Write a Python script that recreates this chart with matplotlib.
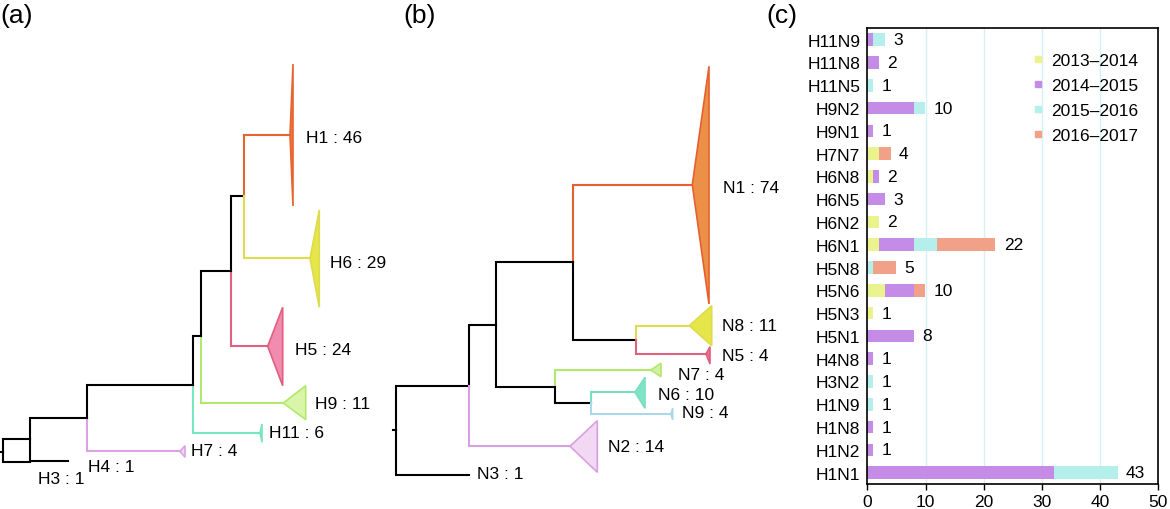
import numpy as np
import matplotlib
matplotlib.use('Agg')
import matplotlib.pyplot as plt
from matplotlib.patches import Polygon
from matplotlib.lines import Line2D

plt.rcParams['font.family'] = ['Liberation Sans', 'DejaVu Sans']

# ---- panel (c) data, bottom row first ----
subtypes = ['H1N1', 'H1N2', 'H1N8', 'H1N9', 'H3N2', 'H4N8', 'H5N1', 'H5N3', 'H5N6', 'H5N8',
            'H6N1', 'H6N2', 'H6N5', 'H6N8', 'H7N7', 'H9N1', 'H9N2', 'H11N5', 'H11N8', 'H11N9']
s2013 = [0, 0, 0, 0, 0, 0, 0, 1, 3, 0, 2, 2, 0, 1, 2, 0, 0, 0, 0, 0]
s2014 = [32, 1, 1, 0, 0, 1, 8, 0, 5, 0, 6, 0, 3, 1, 0, 1, 8, 0, 2, 1]
s2015 = [11, 0, 0, 1, 1, 0, 0, 0, 0, 1, 4, 0, 0, 0, 0, 0, 2, 1, 0, 2]
s2016 = [0, 0, 0, 0, 0, 0, 0, 0, 2, 4, 10, 0, 0, 0, 2, 0, 0, 0, 0, 0]
seasons = ['2013\u20132014', '2014\u20132015', '2015\u20132016', '2016\u20132017']
season_colors = ['#eaf38e', '#c48ce6', '#b4efeb', '#f1a188']

# ---- panel (a) tree: node positions (depth, row) ----
tree_a_nodes = {
    'root': (3.3, 453), 'n0': (30, 463), 'n1': (30, 440), 'H3': (68, 462),
    'n2': (86.7, 419.3), 'H4': (180, 452.3), 'n3': (193.3, 386), 'H11': (260, 434),
    'n4': (201, 337.3), 'H9': (283.3, 404), 'n5': (230.7, 272.3), 'H5': (267.7, 347.3),
    'n6': (244, 197.3), 'H1': (290, 136), 'H6': (310, 259.3),
}
tree_a_parent = {
    'n0': 'root', 'n1': 'root', 'H3': 'n1', 'n2': 'n1', 'H4': 'n2', 'n3': 'n2',
    'H11': 'n3', 'n4': 'n3', 'H9': 'n4', 'n5': 'n4', 'H5': 'n5', 'n6': 'n5',
    'H1': 'n6', 'H6': 'n6',
}
# collapsed clades: tip depth, top row, bottom row
tree_a_clades = {
    'H1': (293, 65, 207), 'H6': (319.3, 211, 308.3), 'H5': (282.7, 308.3, 386.7),
    'H9': (305.7, 386.7, 420.7), 'H11': (262, 425, 443.3), 'H4': (185, 446.7, 458.3),
}
tree_a_labels = [('H1 : 46', 305.7, 138.3), ('H6 : 29', 330, 264), ('H5 : 24', 295, 351),
                 ('H9 : 11', 315, 405), ('H11 : 6', 269.3, 433.3), ('H7 : 4', 190.7, 451.7),
                 ('H4 : 1', 88.3, 467.3), ('H3 : 1', 38.3, 480)]

# ---- panel (b) tree ----
tree_b_nodes = {
    'root': (16, 430.7), 'a': (89.3, 386.7), 'N3': (89.3, 476), 'b': (115.7, 325.7),
    'N2': (190, 447.3), 'c': (192.7, 263.3), 'd': (174.7, 387.7), 'N1': (312.3, 185.7),
    'e': (255.7, 341), 'N8': (309.3, 326.7), 'N5': (326, 355), 'N7': (270.7, 371),
    'f': (210.7, 404.3), 'N6': (255, 393.3), 'N9': (291, 415),
}
tree_b_parent = {
    'a': 'root', 'N3': 'root', 'b': 'a', 'N2': 'a', 'c': 'b', 'd': 'b',
    'N1': 'c', 'e': 'c', 'N8': 'e', 'N5': 'e', 'N7': 'd', 'f': 'd', 'N6': 'f', 'N9': 'f',
}
tree_b_clades = {
    'N1': (329, 67.3, 305), 'N8': (331.7, 306.7, 346.7), 'N5': (330, 347.7, 365),
    'N7': (281, 364.3, 377.7), 'N6': (265, 378.3, 409.3), 'N9': (292.7, 409, 421),
    'N2': (217.3, 421.7, 473.3),
}
tree_b_labels = [('N1 : 74', 343.3, 188.3), ('N8 : 11', 341.7, 326.7), ('N5 : 4', 341.7, 356.7),
                 ('N7 : 4', 297.7, 376), ('N6 : 10', 278.3, 396), ('N9 : 4', 302.3, 413.3),
                 ('N2 : 14', 228.3, 447.3), ('N3 : 1', 97.3, 475)]

# line colour, fill colour per clade
clade_style = {
    'H1': ('#e8642e', '#ee7a40'), 'H6': ('#dcdc4e', '#e6e64a'), 'H5': ('#e0607e', '#f28bb0'),
    'H9': ('#b2e86e', '#d8f5a8'), 'H11': ('#78e6c0', '#80e2c6'), 'H4': ('#dca2e6', '#f2d8f2'),
    'N1': ('#e5602e', '#ec9048'), 'N8': ('#dcdc4e', '#e6e64a'), 'N5': ('#e0607e', '#f07090'),
    'N7': ('#b2e86e', '#d0f2a0'), 'N6': ('#78e0c0', '#80e2c6'), 'N9': ('#a8d8ea', '#a8d8ea'),
    'N2': ('#d8a0e4', '#f2d8f2'),
}


def draw_tree(ax, nodes, parent, clades, labels, stub):
    for child, par in parent.items():
        px, py = nodes[par]
        cx, cy = nodes[child]
        col = clade_style.get(child, ('black',))[0]
        ax.plot([px, px, cx], [py, cy, cy], color=col, lw=1.5, solid_joinstyle='miter')
    rx, ry = nodes['root']
    ax.plot([rx - stub, rx], [ry, ry], color='black', lw=1.5)
    for name, (tx, top, bot) in clades.items():
        ax_, ay = nodes[name]
        line, fill = clade_style[name]
        ax.add_patch(Polygon([(ax_, ay), (tx, top), (tx, bot)], closed=True,
                             facecolor=fill, edgecolor=line, lw=1.2))
    for txt, x, y in labels:
        ax.text(x, y, txt, fontsize=12.5, ha='left', va='center')


fig = plt.figure(figsize=(11.7, 5.1), dpi=100)

ax_a = fig.add_axes([0, 0, 390 / 1170, 1])
ax_a.set_xlim(0, 390)
ax_a.set_ylim(510, 0)
ax_a.axis('off')
draw_tree(ax_a, tree_a_nodes, tree_a_parent, tree_a_clades, tree_a_labels, 3.3)

ax_b = fig.add_axes([380 / 1170, 0, 400 / 1170, 1])
ax_b.set_xlim(0, 400)
ax_b.set_ylim(510, 0)
ax_b.axis('off')
draw_tree(ax_b, tree_b_nodes, tree_b_parent, tree_b_clades, tree_b_labels, 2.7)

# ---- panel (c) ----
ax = fig.add_axes([867.3 / 1170, 25 / 510, 291 / 1170, 455.7 / 510])
y = np.arange(len(subtypes))
left = np.zeros(len(subtypes))
for vals, col, lab in zip([s2013, s2014, s2015, s2016], season_colors, seasons):
    ax.barh(y, vals, left=left, height=0.55, color=col, label=lab, zorder=2)
    left += np.array(vals)
for yi, tot in zip(y, left):
    ax.annotate(str(int(tot)), (tot, yi), xytext=(6, 0), textcoords='offset points',
                va='center', ha='left', fontsize=12.5)
ax.set_xlim(0, 50)
ax.set_ylim(-0.5, 19.5)
ax.set_yticks(y)
ax.set_yticklabels(subtypes, fontsize=12.5)
ax.set_xticks(np.arange(0, 51, 10))
ax.tick_params(axis='x', labelsize=12.5, length=4, width=1, direction='out')
ax.tick_params(axis='y', length=0, pad=5)
for xv in [10, 20, 30, 40]:
    ax.axvline(xv, color='#d4f2f4', lw=1, zorder=1)
for sp in ax.spines.values():
    sp.set_linewidth(1.2)

handles = [Line2D([], [], marker='s', ls='none', markersize=5, color=c) for c in season_colors]
ax.legend(handles, seasons, loc='upper left', bbox_to_anchor=(0.5625, 0.947), frameon=False,
          fontsize=12.5, handlelength=0.8, handletextpad=0.35, labelspacing=0.58,
          borderpad=0, borderaxespad=0)

fig.text(0 / 1170, 1 - 16 / 510, '(a)', fontsize=19, va='center', ha='left')
fig.text(403 / 1170, 1 - 16 / 510, '(b)', fontsize=19, va='center', ha='left')
fig.text(766 / 1170, 1 - 16 / 510, '(c)', fontsize=19, va='center', ha='left')

fig.savefig('out.png', dpi=100)
